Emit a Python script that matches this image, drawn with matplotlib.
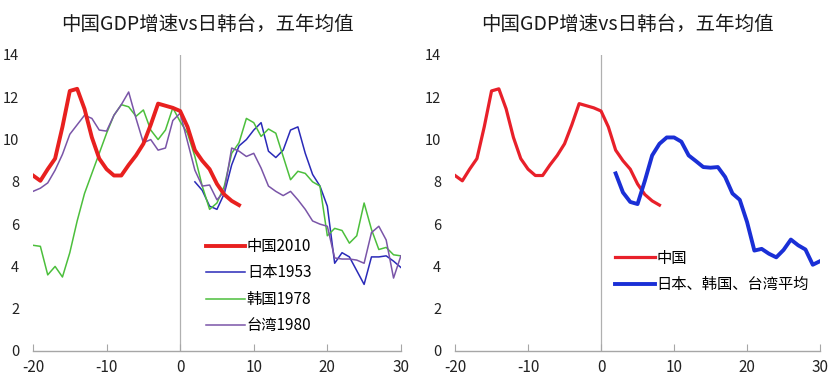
import numpy as np
import matplotlib
matplotlib.use('Agg')
import matplotlib.pyplot as plt

plt.rcParams['font.family'] = ['Noto Sans CJK SC', 'DejaVu Sans']
plt.rcParams['axes.unicode_minus'] = False

# years relative to base year
china_years = np.arange(-20, 9)
china = [8.3, 8.05, 8.6, 9.1, 10.6, 12.3, 12.4, 11.45, 10.1, 9.1, 8.6, 8.3, 8.3,
         8.8, 9.25, 9.8, 10.7, 11.7, 11.6, 11.5, 11.35, 10.6, 9.5, 9.0, 8.6,
         7.9, 7.4, 7.1, 6.9]

japan_years = np.arange(2, 31)
japan_1953 = [8.0, 7.6, 6.85, 6.7, 7.45, 8.8, 9.7, 10.0, 10.45, 10.8, 9.45, 9.15,
              9.5, 10.45, 10.6, 9.35, 8.35, 7.8, 6.85, 4.15, 4.65, 4.45, 3.8,
              3.15, 4.45, 4.45, 4.5, 4.25, 3.95]

full_years = np.arange(-20, 31)
korea_1978 = [5.0, 4.95, 3.6, 4.0, 3.5, 4.65, 6.15, 7.45, 8.4, 9.35, 10.3, 11.15,
              11.65, 11.55, 11.1, 11.4, 10.45, 10.0, 10.45, 11.5, 10.85,
              10.3, 9.2, 7.8, 6.7, 7.0, 7.8, 9.35, 9.85, 11.0, 10.8, 10.15,
              10.5, 10.3, 9.2, 8.1, 8.5, 8.4, 8.0, 7.8, 5.45, 5.8, 5.7, 5.1,
              5.45, 7.0, 5.75, 4.8, 4.9, 4.55, 4.5]
taiwan_1980 = [7.55, 7.7, 7.95, 8.55, 9.3, 10.25, 10.7, 11.15, 11.0, 10.45, 10.4,
               11.15, 11.65, 12.25, 11.0, 9.85, 10.0, 9.5, 9.6, 10.9, 11.25,
               9.9, 8.55, 7.8, 7.85, 7.15, 7.55, 9.6, 9.45, 9.2, 9.35, 8.65,
               7.8, 7.55, 7.35, 7.55, 7.15, 6.7, 6.15, 6.0, 5.9, 4.4, 4.35,
               4.35, 4.3, 4.15, 5.6, 5.9, 5.25, 3.45, 4.5]

avg_years = np.arange(2, 31)
jkt_avg = [8.4, 7.5, 7.05, 6.95, 8.05, 9.25, 9.8, 10.1, 10.1, 9.9, 9.25, 8.98,
           8.7, 8.67, 8.7, 8.23, 7.45, 7.15, 6.1, 4.75, 4.83, 4.6, 4.43, 4.78,
           5.27, 5.0, 4.8, 4.08, 4.25]

title = '中国GDP增速vs日韩台，五年均值'


def style_ax(ax):
    ax.set_xlim(-20, 30)
    ax.set_ylim(0, 14)
    ax.set_xticks(np.arange(-20, 31, 10))
    ax.set_yticks(np.arange(0, 15, 2))
    for s in ['top', 'right', 'left']:
        ax.spines[s].set_visible(False)
    ax.spines['bottom'].set_color('#a6a6a6')
    ax.spines['bottom'].set_linewidth(1.0)
    ax.tick_params(axis='x', direction='in', length=5, color='#a6a6a6',
                   labelsize=11, pad=6, labelcolor='#222222')
    ax.tick_params(axis='y', length=0, labelsize=10.5, pad=10,
                   labelcolor='#222222')
    ax.axvline(0, color='#b0b0b0', linewidth=0.9, zorder=0)


fig = plt.figure(figsize=(8.38, 3.9), dpi=100)
ax1 = fig.add_axes([0.0394, 0.10, 0.439, 0.759])
ax2 = fig.add_axes([0.543, 0.10, 0.4356, 0.759])

ax1.plot(china_years, china, color='#e8201f', lw=2.8, label='中国2010', zorder=5)
ax1.plot(japan_years, japan_1953, color='#2a2ab8', lw=1.1, label='日本1953')
ax1.plot(full_years, korea_1978, color='#4cbf3c', lw=1.1, label='韩国1978')
ax1.plot(full_years, taiwan_1980, color='#7a55a8', lw=1.1, label='台湾1980')
style_ax(ax1)
ax1.legend(loc='lower left', bbox_to_anchor=(0.44, 0.02), frameon=False,
           fontsize=11, handlelength=2.6, handletextpad=0.1,
           labelspacing=0.62, borderpad=0.2)

ax2.plot(china_years, china, color='#e8202a', lw=2.3, label='中国')
ax2.plot(avg_years, jkt_avg, color='#1a2fd6', lw=2.8, label='日本、韩国、台湾平均')
style_ax(ax2)
ax2.legend(loc='lower left', bbox_to_anchor=(0.41, 0.16), frameon=False,
           fontsize=11, handlelength=2.6, handletextpad=0.1,
           labelspacing=0.6, borderpad=0.2)

fig.text(0.247, 0.938, title, ha='center', va='center', fontsize=14,
         fontweight='medium', color='#1a1a1a')
fig.text(0.749, 0.938, title, ha='center', va='center', fontsize=14,
         fontweight='medium', color='#1a1a1a')

fig.savefig('out.png', dpi=100, facecolor='white')
